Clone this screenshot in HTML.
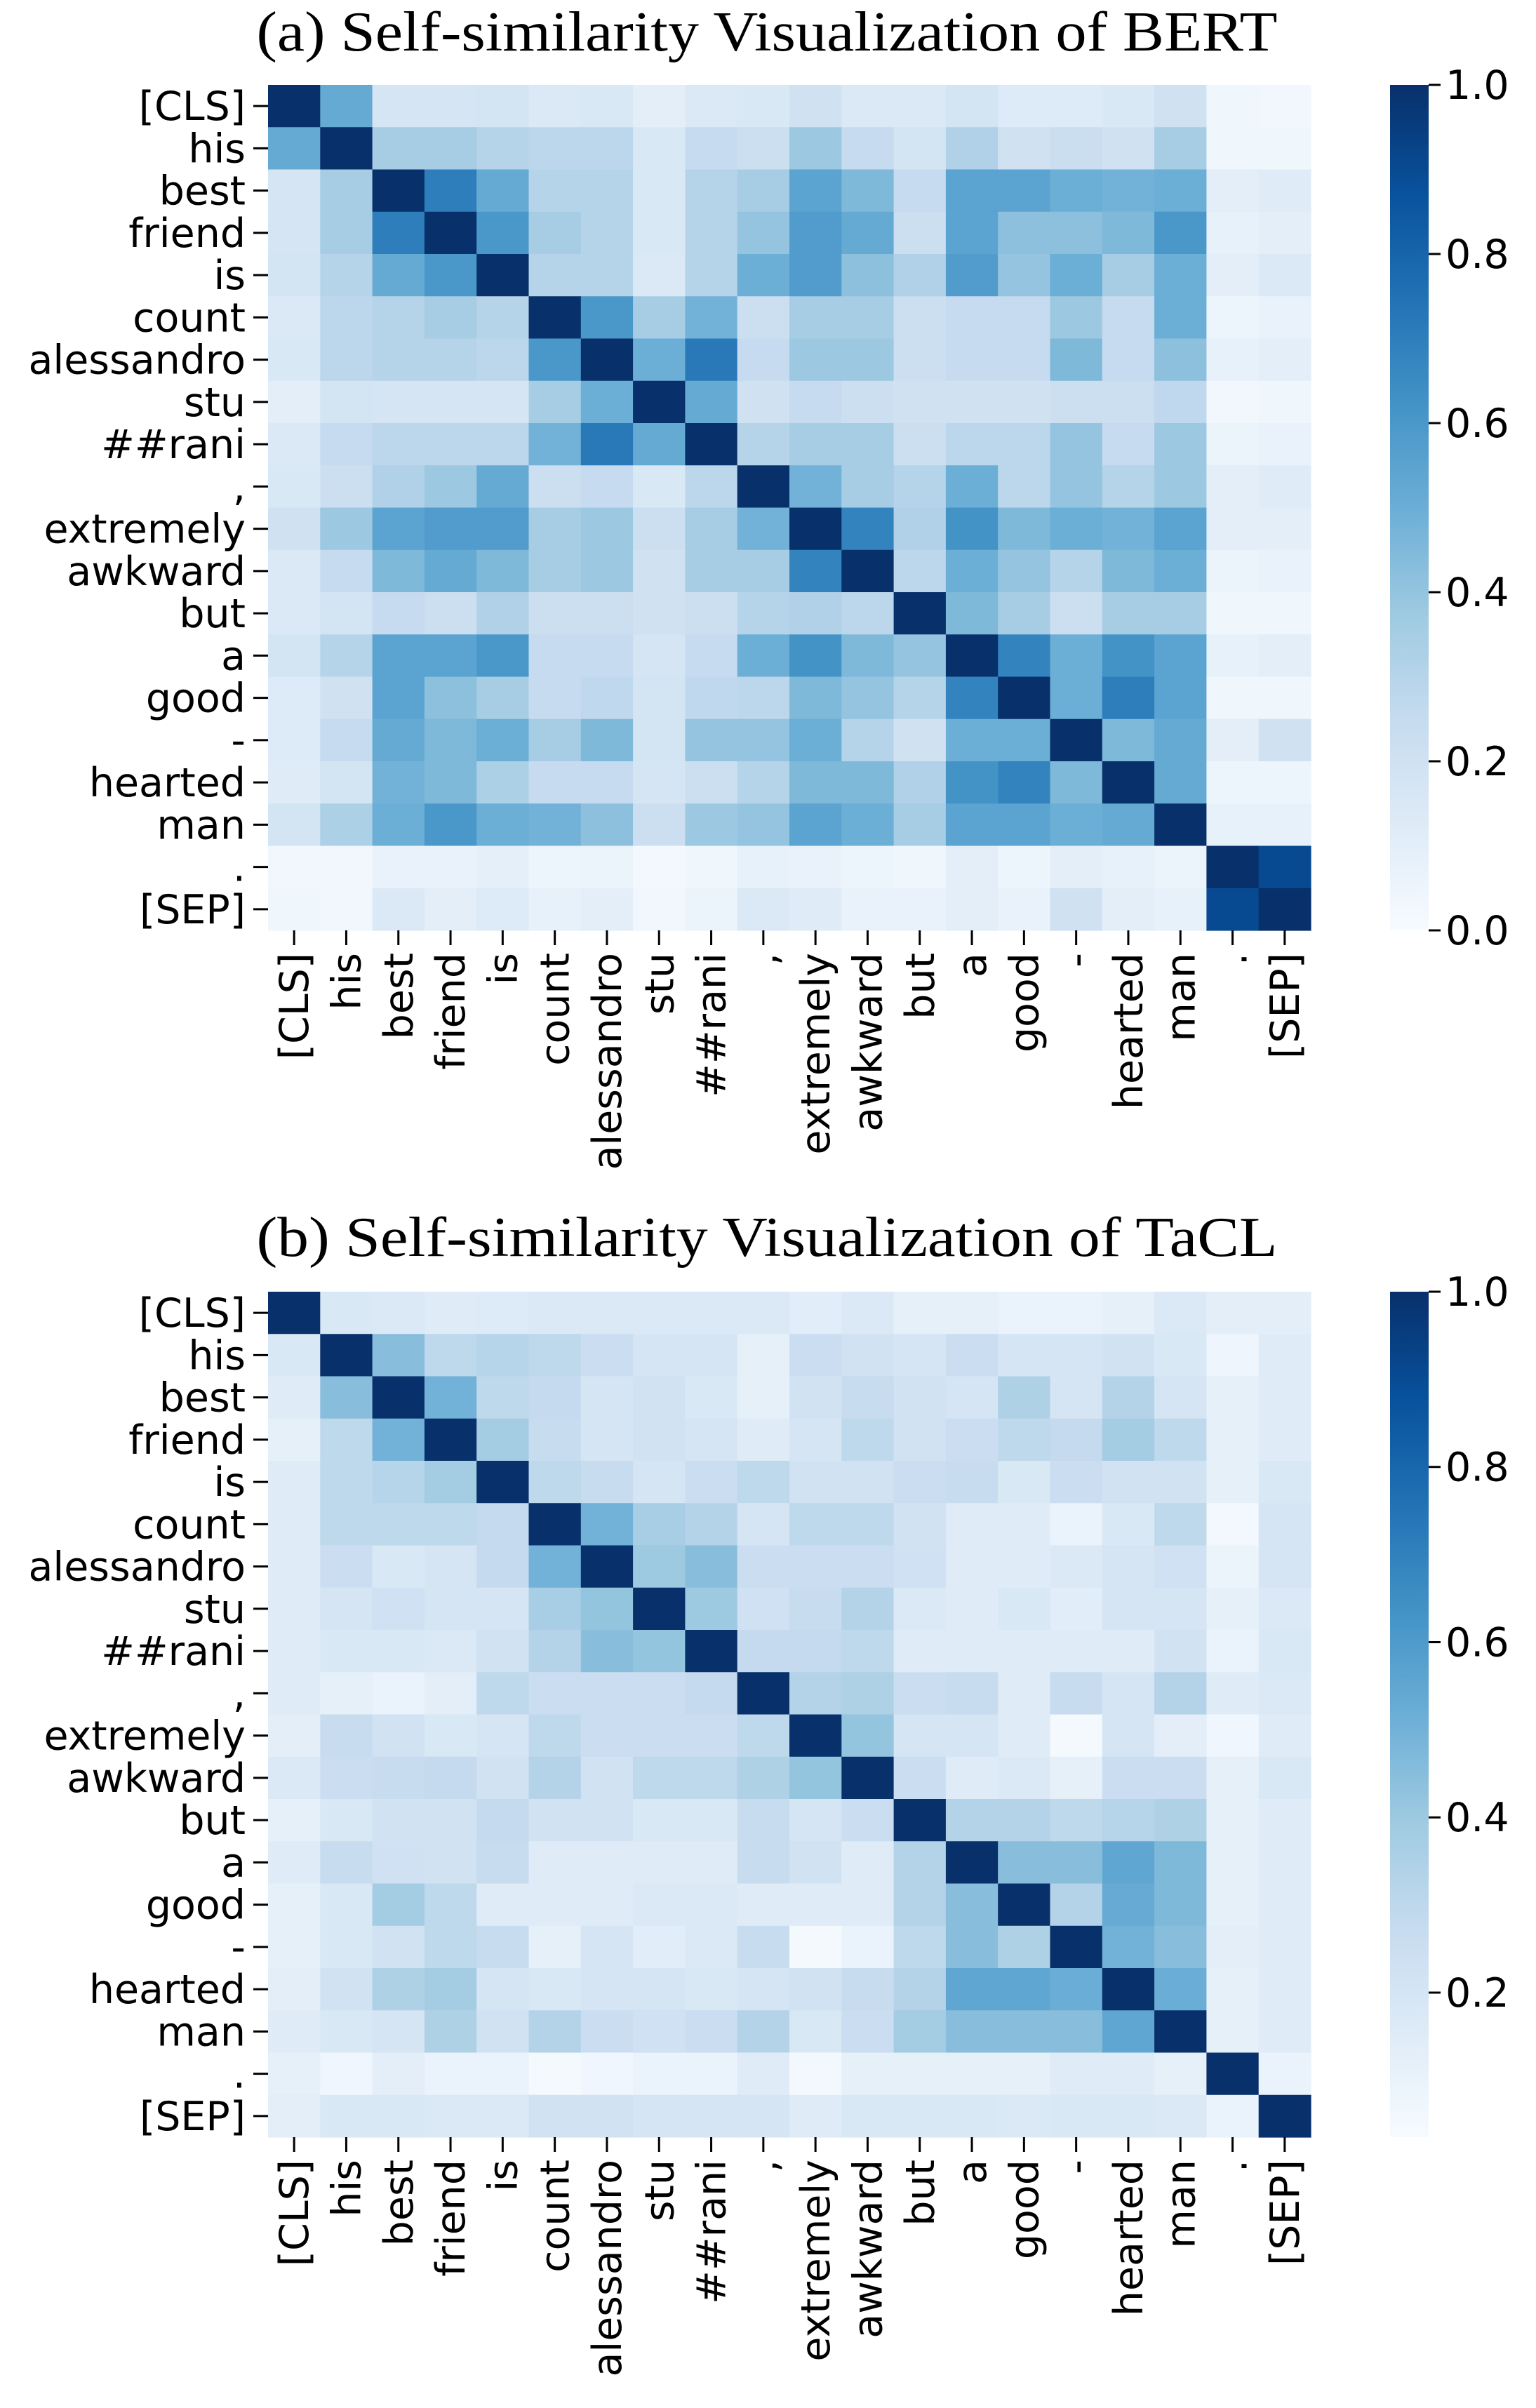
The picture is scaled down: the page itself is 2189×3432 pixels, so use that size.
<!DOCTYPE html>
<html><head><meta charset="utf-8">
<style>
html,body{margin:0;padding:0;background:#fff;}
svg{display:block;}
</style></head>
<body>
<svg id="chart" xmlns="http://www.w3.org/2000/svg" width="2189" height="3432" viewBox="0 0 2189 3432">
<rect width="2189" height="3432" fill="#fff"/>
<defs>
<linearGradient id="cbgrad" x1="0" y1="1" x2="0" y2="0">
<stop offset="0" stop-color="#f7fbff"/><stop offset="0.125" stop-color="#deebf7"/><stop offset="0.25" stop-color="#c6dbef"/><stop offset="0.375" stop-color="#9ecae1"/><stop offset="0.5" stop-color="#6baed6"/><stop offset="0.625" stop-color="#4292c6"/><stop offset="0.75" stop-color="#2171b5"/><stop offset="0.875" stop-color="#08519c"/><stop offset="1" stop-color="#08306b"/>
</linearGradient>
</defs>
<text x="1093" y="72" text-anchor="middle" font-family="Liberation Serif, serif" font-size="80" textLength="1455" lengthAdjust="spacingAndGlyphs">(a) Self-similarity Visualization of BERT</text>
<text x="1093" y="1790" text-anchor="middle" font-family="Liberation Serif, serif" font-size="80" textLength="1455" lengthAdjust="spacingAndGlyphs">(b) Self-similarity Visualization of TaCL</text>
<g id="panelA"></g>
<g id="panelB"></g>
</svg>
<script>
const tokens = ["[CLS]","his","best","friend","is","count","alessandro","stu","##rani",",","extremely","awkward","but","a","good","-","hearted","man",".","[SEP]"];
const bertValues = [
[1,.52,.17,.17,.18,.14,.15,.1,.14,.15,.2,.14,.14,.18,.13,.13,.15,.2,.04,.03],
[.52,1,.35,.35,.3,.28,.28,.15,.25,.22,.38,.25,.18,.32,.2,.23,.2,.35,.04,.04],
[.17,.35,1,.7,.52,.3,.3,.15,.3,.35,.55,.45,.25,.55,.55,.5,.48,.5,.1,.12],
[.17,.35,.7,1,.6,.35,.3,.15,.3,.4,.58,.52,.22,.55,.42,.42,.45,.6,.08,.1],
[.18,.3,.52,.6,1,.3,.3,.14,.3,.5,.58,.42,.32,.58,.4,.5,.35,.5,.1,.14],
[.14,.28,.3,.35,.3,1,.6,.35,.48,.22,.35,.35,.22,.25,.25,.38,.25,.5,.05,.07],
[.15,.28,.3,.3,.28,.6,1,.5,.72,.25,.38,.38,.22,.25,.25,.45,.25,.42,.08,.1],
[.1,.18,.17,.17,.17,.35,.5,1,.52,.2,.25,.22,.2,.2,.2,.22,.22,.27,.03,.04],
[.14,.25,.28,.28,.28,.48,.72,.52,1,.3,.35,.35,.22,.28,.28,.4,.25,.38,.06,.07],
[.15,.22,.32,.38,.52,.22,.25,.15,.28,1,.48,.35,.3,.5,.28,.4,.3,.38,.1,.12],
[.2,.38,.55,.58,.58,.35,.38,.22,.35,.48,1,.68,.32,.62,.45,.5,.48,.55,.1,.1],
[.14,.25,.45,.52,.45,.35,.38,.2,.35,.35,.68,1,.28,.5,.4,.3,.45,.5,.06,.07],
[.14,.18,.25,.22,.32,.22,.22,.2,.22,.3,.32,.28,1,.45,.35,.22,.35,.35,.04,.04],
[.18,.3,.55,.55,.6,.25,.25,.17,.25,.5,.62,.45,.4,1,.68,.5,.62,.55,.08,.1],
[.13,.2,.55,.42,.35,.25,.27,.18,.27,.28,.45,.4,.3,.68,1,.5,.7,.55,.04,.04],
[.13,.25,.52,.45,.5,.35,.45,.18,.4,.4,.5,.3,.2,.5,.5,1,.45,.52,.1,.2],
[.12,.18,.48,.45,.33,.25,.25,.17,.22,.3,.45,.45,.32,.62,.68,.45,1,.52,.05,.05],
[.18,.33,.5,.6,.5,.48,.42,.22,.38,.4,.55,.5,.35,.55,.55,.5,.52,1,.08,.08],
[.03,.03,.07,.07,.09,.05,.06,.02,.04,.08,.07,.05,.04,.1,.05,.1,.08,.06,1,.9],
[.04,.03,.14,.1,.13,.08,.1,.03,.06,.14,.12,.07,.07,.1,.07,.2,.1,.08,.9,1]
];
const taclValues = [
[1,.18,.17,.15,.16,.17,.17,.17,.17,.17,.14,.17,.12,.12,.1,.1,.12,.17,.13,.13],
[.18,1,.45,.3,.32,.3,.25,.2,.2,.12,.25,.22,.2,.25,.2,.2,.22,.18,.08,.15],
[.15,.45,1,.5,.3,.28,.2,.22,.18,.12,.22,.27,.22,.2,.35,.2,.33,.2,.12,.15],
[.12,.3,.5,1,.38,.27,.2,.22,.2,.15,.2,.3,.22,.25,.3,.28,.38,.3,.12,.15],
[.15,.3,.32,.38,1,.3,.27,.2,.25,.3,.22,.22,.25,.27,.18,.25,.22,.22,.12,.18],
[.15,.3,.3,.3,.28,1,.5,.37,.33,.2,.3,.3,.22,.15,.15,.1,.18,.3,.06,.2],
[.15,.25,.18,.2,.28,.5,1,.4,.45,.25,.25,.25,.23,.15,.15,.17,.2,.23,.09,.2],
[.15,.2,.23,.2,.2,.37,.42,1,.4,.23,.27,.33,.17,.15,.18,.14,.2,.2,.12,.17],
[.15,.18,.18,.17,.22,.33,.45,.42,1,.28,.28,.3,.15,.15,.15,.15,.15,.22,.1,.18],
[.15,.12,.1,.13,.3,.25,.25,.25,.28,1,.33,.35,.25,.27,.15,.27,.2,.33,.15,.17],
[.13,.27,.22,.18,.2,.3,.25,.25,.25,.3,1,.42,.2,.2,.15,.05,.2,.13,.07,.15],
[.17,.25,.27,.28,.22,.33,.22,.3,.3,.35,.42,1,.25,.15,.17,.12,.25,.25,.12,.18],
[.12,.18,.22,.22,.28,.22,.22,.18,.18,.27,.2,.25,1,.33,.33,.3,.32,.35,.12,.15],
[.15,.27,.23,.22,.27,.15,.15,.15,.15,.27,.22,.15,.33,1,.45,.45,.55,.47,.12,.15],
[.12,.18,.38,.3,.15,.15,.15,.17,.17,.15,.15,.15,.33,.45,1,.33,.53,.47,.12,.15],
[.12,.18,.22,.3,.27,.12,.2,.14,.17,.27,.05,.1,.3,.45,.35,1,.5,.45,.13,.15],
[.13,.22,.35,.38,.2,.18,.2,.2,.18,.2,.22,.27,.33,.55,.55,.52,1,.52,.12,.15],
[.15,.18,.2,.35,.22,.33,.25,.23,.25,.33,.18,.25,.38,.45,.45,.45,.55,1,.12,.15],
[.12,.07,.13,.1,.1,.05,.07,.1,.1,.15,.06,.12,.12,.12,.12,.15,.15,.12,1,.1],
[.13,.18,.18,.17,.17,.22,.22,.2,.2,.2,.15,.18,.18,.18,.17,.18,.18,.17,.1,1]
];
const bertTicks = [0.0,0.2,0.4,0.6,0.8,1.0];
const bertTickLabels = ["0.0","0.2","0.4","0.6","0.8","1.0"];
const taclTicks = [0.2,0.4,0.6,0.8,1.0];
const taclTickLabels = ["0.2","0.4","0.6","0.8","1.0"];

const NS = "http://www.w3.org/2000/svg";
const stops = [[247,251,255],[222,235,247],[198,219,239],[158,202,225],[107,174,214],[66,146,198],[33,113,181],[8,81,156],[8,48,107]];
function blues(t){
  t = Math.max(0, Math.min(1, t));
  const p = t*(stops.length-1), i = Math.min(Math.floor(p), stops.length-2), f = p - i;
  const a = stops[i], b = stops[i+1];
  return "rgb(" + a.map((v,k)=>Math.round(v+(b[k]-v)*f)).join(",") + ")";
}
function mk(tag, attrs, parent){
  const e = document.createElementNS(NS, tag);
  for (const k in attrs) e.setAttribute(k, attrs[k]);
  parent.appendChild(e);
  return e;
}
const FONT = "DejaVu Sans, Liberation Sans, sans-serif";
const FS = 57;
function drawPanel(g, values, vmin, vmax, top, ticks, tickLabels, key){
  const left = 382, right = 1868, bottom = top + 1205;
  const n = tokens.length;
  const cw = (right-left)/n, ch = (bottom-top)/n;
  const xPos = i => left + i*cw;
  const yPos = i => top + i*ch;
  const norm = v => (v - vmin)/(vmax - vmin);
  values.forEach((row, r) => {
    row.forEach((v, c) => {
      const cell = mk("rect", {x: xPos(c).toFixed(2), y: yPos(r).toFixed(2), width: (cw+0.6).toFixed(2), height: (ch+0.6).toFixed(2), fill: blues(norm(v))}, g);
      
      
    });
  });
  tokens.forEach((t, i) => {
    const cy = yPos(i) + ch/2;
    mk("line", {x1: left-21, x2: left, y1: cy, y2: cy, stroke: "#000", "stroke-width": 3}, g);
    const yl = mk("text", {x: left-32, y: cy+20, "text-anchor": "end", "font-family": FONT, "font-size": FS}, g);
    yl.textContent = t;
    
    
    const cx = xPos(i) + cw/2;
    mk("line", {x1: cx, x2: cx, y1: bottom, y2: bottom+21, stroke: "#000", "stroke-width": 3}, g);
    const xl = mk("text", {x: 0, y: 0, "text-anchor": "end", "font-family": FONT, "font-size": FS, transform: "translate(" + (cx+20) + "," + (bottom+32) + ") rotate(-90)"}, g);
    xl.textContent = t;
    
    
  });
  const cbX = 1981, cbW = 55;
  const cb = mk("rect", {x: cbX, y: top, width: cbW, height: bottom-top, fill: "url(#cbgrad)"}, g);
  
  
  const cbY = v => bottom - norm(v)*(bottom-top);
  ticks.forEach((t, i) => {
    const y = cbY(t);
    mk("line", {x1: cbX+cbW, x2: cbX+cbW+17, y1: y, y2: y, stroke: "#000", "stroke-width": 3}, g);
    const tl = mk("text", {x: cbX+cbW+24, y: y+20, "font-family": FONT, "font-size": FS}, g);
    tl.textContent = tickLabels[i];
    
    
  });
}
drawPanel(document.getElementById("panelA"), bertValues, 0, 1, 121, bertTicks, bertTickLabels, "bert");
drawPanel(document.getElementById("panelB"), taclValues, 0.035, 1, 1841, taclTicks, taclTickLabels, "tacl");
</script>
</body></html>
